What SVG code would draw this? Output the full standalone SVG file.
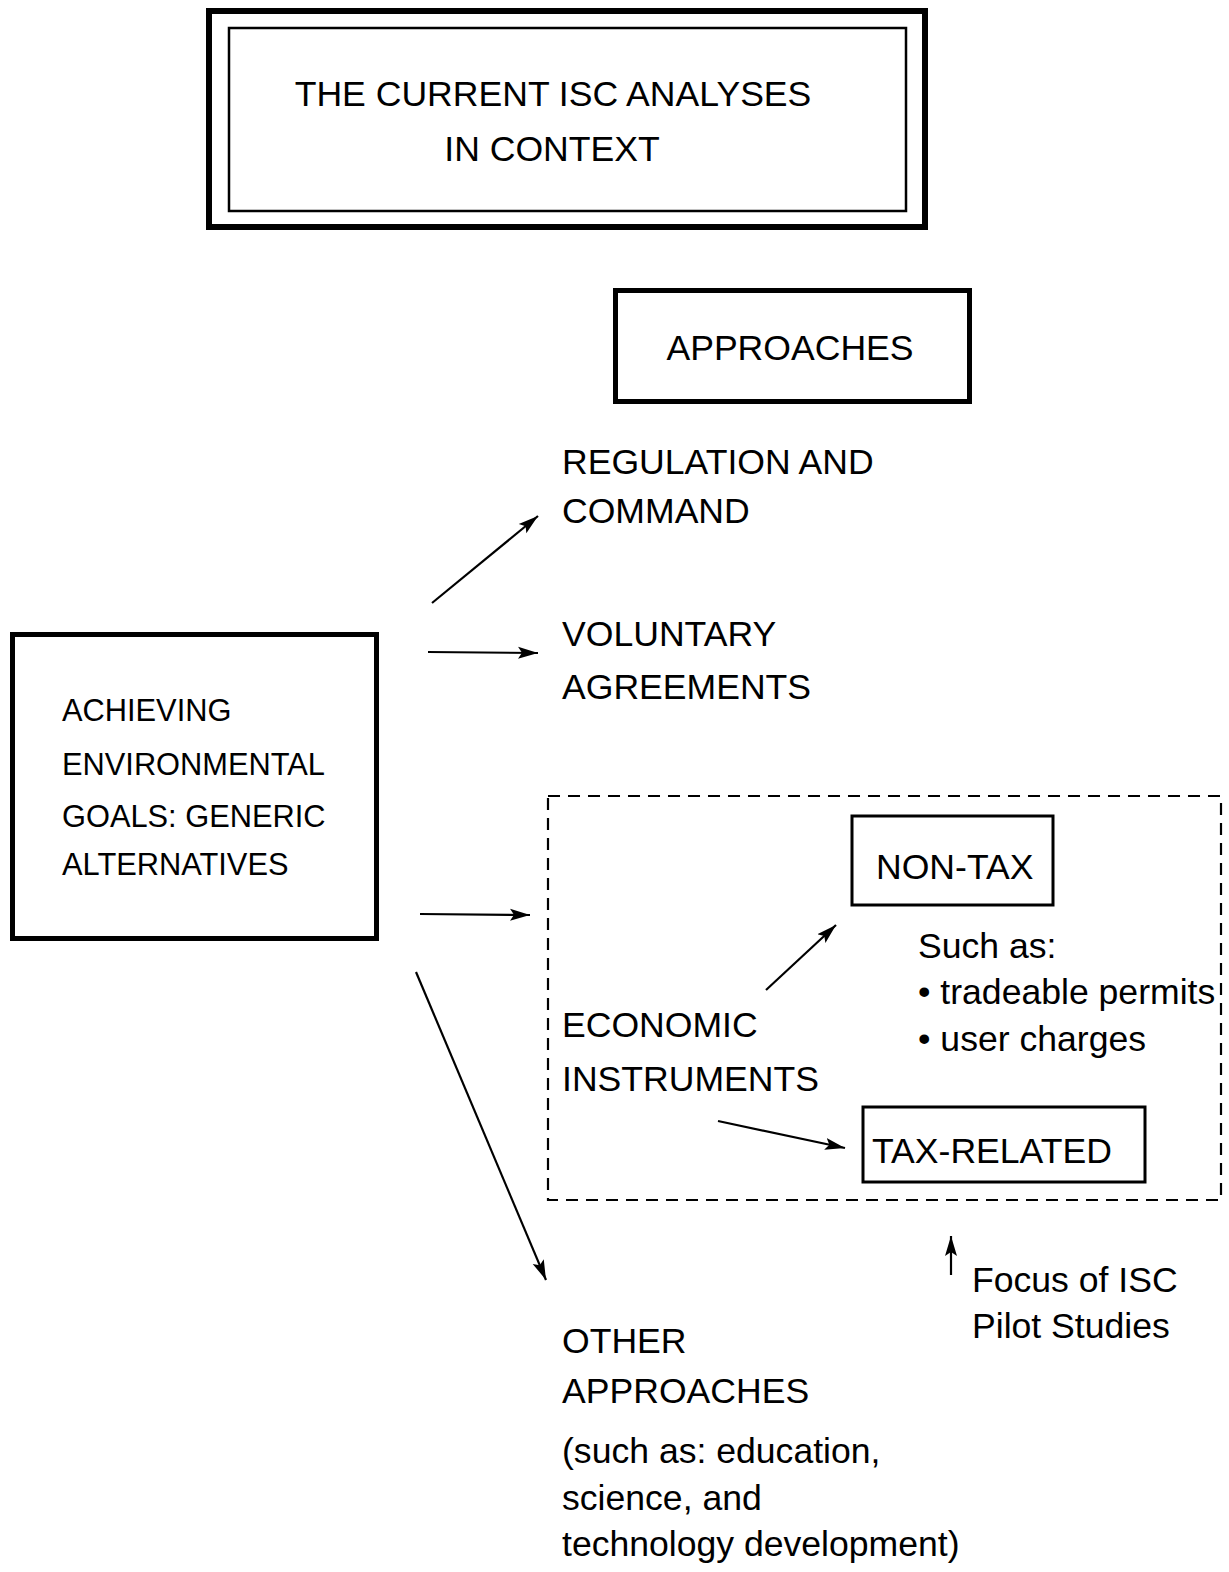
<svg xmlns="http://www.w3.org/2000/svg" width="1229" height="1572" viewBox="0 0 1229 1572">
<style>
text{font-family:"Liberation Sans",Arial,sans-serif;font-size:35.6px;fill:#000}
.sm{font-size:30.8px}
.box{fill:none;stroke:#000}
.ln{fill:none;stroke:#000;stroke-width:2.2}
</style>
<defs>
<marker id="ah" markerUnits="userSpaceOnUse" markerWidth="22" markerHeight="14" refX="20" refY="7" orient="auto">
<path d="M0,1 L20,7 L0,13 L4,7 Z" fill="#000"/>
</marker>
</defs>
<rect width="1229" height="1572" fill="#fff"/>
<g id="title">
<rect class="box" x="209" y="11" width="716" height="216" stroke-width="6"/>
<rect class="box" x="229" y="28" width="677" height="183" stroke-width="2.5"/>
<text x="553" y="106" text-anchor="middle">THE CURRENT ISC ANALYSES</text>
<text x="552" y="161" text-anchor="middle">IN CONTEXT</text>
</g>
<g id="approaches">
<rect class="box" x="615.5" y="290.5" width="354" height="111" stroke-width="5"/>
<text x="790" y="360" text-anchor="middle">APPROACHES</text>
</g>
<g id="goals">
<rect class="box" x="12.5" y="634.5" width="364" height="304" stroke-width="5"/>
<text class="sm" x="62" y="721">ACHIEVING</text>
<text class="sm" x="62" y="775">ENVIRONMENTAL</text>
<text class="sm" x="62" y="827">GOALS: GENERIC</text>
<text class="sm" x="62" y="875">ALTERNATIVES</text>
</g>
<g id="regulation">
<text x="562" y="474">REGULATION AND</text>
<text x="562" y="523">COMMAND</text>
</g>
<g id="voluntary">
<text x="562" y="646">VOLUNTARY</text>
<text x="562" y="699">AGREEMENTS</text>
</g>
<g id="economic">
<rect class="box" x="548" y="796" width="673" height="404" stroke-width="2.2" stroke-dasharray="12,8"/>
<text x="562" y="1037">ECONOMIC</text>
<text x="562" y="1091">INSTRUMENTS</text>
</g>
<g id="nontax">
<rect class="box" x="852" y="816" width="201" height="89" stroke-width="3"/>
<text x="876" y="879">NON-TAX</text>
<text x="918" y="958">Such as:</text>
<text x="918" y="1004">• tradeable permits</text>
<text x="918" y="1051">• user charges</text>
</g>
<g id="taxrelated">
<rect class="box" x="863" y="1107" width="282" height="75" stroke-width="3"/>
<text x="872" y="1163">TAX-RELATED</text>
</g>
<g id="other">
<text x="562" y="1353">OTHER</text>
<text x="562" y="1403">APPROACHES</text>
<text x="562" y="1463">(such as: education,</text>
<text x="562" y="1510">science, and</text>
<text x="562" y="1556">technology development)</text>
</g>
<g id="focus">
<text x="972" y="1292">Focus of ISC</text>
<text x="972" y="1338">Pilot Studies</text>
</g>
<g id="connectors">
<line class="ln" x1="432" y1="603" x2="538" y2="516" marker-end="url(#ah)" stroke-width="2.5"/>
<line class="ln" x1="428" y1="652" x2="538" y2="653" marker-end="url(#ah)" stroke-width="2.5"/>
<line class="ln" x1="420" y1="914" x2="530" y2="915" marker-end="url(#ah)" stroke-width="2.5"/>
<line class="ln" x1="416" y1="972" x2="546" y2="1280" marker-end="url(#ah)" stroke-width="2.3"/>
<line class="ln" x1="766" y1="990" x2="836" y2="925" marker-end="url(#ah)"/>
<line class="ln" x1="718" y1="1121" x2="845" y2="1148" marker-end="url(#ah)"/>
<line class="ln" x1="951" y1="1275" x2="951" y2="1236" marker-end="url(#ah)"/>
</g>
</svg>
